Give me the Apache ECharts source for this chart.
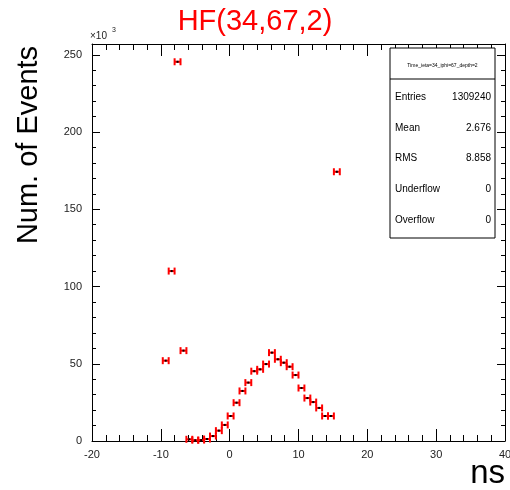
<!DOCTYPE html>
<html>
<head>
<meta charset="utf-8">
<script src="https://cdn.jsdelivr.net/npm/echarts@6/dist/echarts.min.js"></script>
<style>
  html, body { margin: 0; padding: 0; background: #fff; }
  #chart { width: 510px; height: 490px; }
</style>
</head>
<body>
<div id="chart"></div>
<script>
// Timing histogram of HF channel (34,67,2): 70 bins over [-20, 40] ns,
// counts in units of 10^3 events.
const binWidth = 0.857;
const binCenters = [-9.29, -8.43, -7.57, -6.71, -5.86, -5.00, -4.14, -3.29, -2.43, -1.57,
                    -0.71, 0.14, 1.00, 1.86, 2.71, 3.57, 4.43, 5.29, 6.14, 7.00,
                    7.86, 8.71, 9.57, 10.43, 11.29, 12.14, 13.00, 13.86, 14.71, 15.57];
const counts = [52, 110, 245.5, 58.5, 1.1, 0.5, 0.6, 1.3, 3.2, 6.7,
                10.4, 16.2, 24.8, 32.4, 37.8, 45.2, 46.4, 49.8, 57.2, 52.9,
                50.7, 48.1, 42.7, 34.3, 27.8, 25.2, 21.4, 16.2, 16.2, 174.3];

const xTicks = { min: -20, max: 40, step: 10, minorSplit: 5 };
const yTicks = { min: 0, max: 257, step: 50, minorStep: 10 };

const statsTitle = 'Time_ieta=34_iphi=67_depth=2';
const statsLabels = ['Entries', 'Mean', 'RMS', 'Underflow', 'Overflow'];
const statsValues = ['1309240', '2.676', '8.858', '0', '0'];

const titleText = 'HF(34,67,2)';
const xTitle = 'ns';
const yTitle = 'Num. of Events';

const FONT = '"Liberation Sans", Arial, Helvetica, sans-serif';

const chart = echarts.init(document.getElementById('chart'), null, { renderer: 'canvas' });

// Error-bar marker: horizontal bin-width bar with end caps, sqrt(N) vertical bar, dot at centre.
function renderPoint(params, api) {
  const x = api.value(0), y = api.value(1);
  const l = api.coord([x - binWidth / 2, y]);
  const r = api.coord([x + binWidth / 2, y]);
  const c = api.coord([x, y]);
  const err = Math.sqrt(y * 1000) / 1000;
  const t = api.coord([x, y + err]);
  const b = api.coord([x, y - err]);
  const cap = 3.5;
  const red = { stroke: '#ff0000', lineWidth: 2 };
  return {
    type: 'group',
    children: [
      { type: 'line', shape: { x1: l[0], y1: l[1], x2: r[0], y2: r[1] }, style: red },
      { type: 'line', shape: { x1: l[0], y1: l[1] - cap, x2: l[0], y2: l[1] + cap }, style: red },
      { type: 'line', shape: { x1: r[0], y1: r[1] - cap, x2: r[0], y2: r[1] + cap }, style: red },
      { type: 'line', shape: { x1: c[0], y1: t[1], x2: c[0], y2: b[1] }, style: red },
      { type: 'rect', shape: { x: c[0] - 1, y: c[1] - 1, width: 2, height: 2 }, style: { fill: '#000' } }
    ]
  };
}

const labelStyle = { color: '#222', fontSize: 11, fontFamily: FONT };

function xAxisDef(position, showLabel) {
  return {
    type: 'value', position: position,
    min: xTicks.min, max: xTicks.max, interval: xTicks.step,
    axisLine: { show: true, onZero: false, lineStyle: { color: '#000', width: 1 } },
    axisTick: { show: true, inside: true, length: 12, lineStyle: { color: '#000' } },
    minorTick: { show: true, splitNumber: xTicks.minorSplit, length: 6, lineStyle: { color: '#000' } },
    splitLine: { show: false },
    axisLabel: Object.assign({ show: showLabel, margin: 8 }, labelStyle)
  };
}

function yAxisDef(position, step, tickLen, showLabel, showLine) {
  return {
    type: 'value', position: position,
    min: yTicks.min, max: yTicks.max, interval: step,
    axisLine: { show: showLine, onZero: false, lineStyle: { color: '#000', width: 1 } },
    axisTick: { show: true, inside: true, length: tickLen, lineStyle: { color: '#000' } },
    splitLine: { show: false },
    axisLabel: Object.assign({ show: showLabel, margin: 10, showMaxLabel: false,
      formatter: v => (v % yTicks.step === 0 ? String(v) : '') }, labelStyle)
  };
}

const statsGraphics = [
  { type: 'rect', shape: { x: 390, y: 48, width: 105, height: 190 },
    style: { fill: '#fff', stroke: '#000', lineWidth: 1 }, z: 10 },
  { type: 'line', shape: { x1: 390, y1: 79, x2: 495, y2: 79 },
    style: { stroke: '#000', lineWidth: 1 }, z: 11 },
  { type: 'text', x: 442.5, y: 66, z: 11,
    style: { text: statsTitle, font: '5px ' + FONT, fill: '#000', align: 'center', verticalAlign: 'middle' } }
];
statsLabels.forEach((lab, i) => {
  const yy = 97 + i * 30.8;
  statsGraphics.push({ type: 'text', x: 395, y: yy, z: 11,
    style: { text: lab, font: '10px ' + FONT, fill: '#000', align: 'left', verticalAlign: 'middle' } });
  statsGraphics.push({ type: 'text', x: 491, y: yy, z: 11,
    style: { text: statsValues[i], font: '10px ' + FONT, fill: '#000', align: 'right', verticalAlign: 'middle' } });
});

chart.setOption({
  animation: false,
  backgroundColor: '#fff',
  grid: { left: 92, right: 5, top: 44, bottom: 49, containLabel: false, outerBoundsMode: 'none' },
  xAxis: [xAxisDef('bottom', true), xAxisDef('top', false)],
  yAxis: [
    yAxisDef('left', yTicks.step, 8, true, true),
    yAxisDef('left', yTicks.minorStep, 4, false, false),
    yAxisDef('right', yTicks.step, 8, false, true),
    yAxisDef('right', yTicks.minorStep, 4, false, false)
  ],
  series: [{
    type: 'custom',
    xAxisIndex: 0, yAxisIndex: 0,
    renderItem: renderPoint,
    data: binCenters.map((x, i) => [x, counts[i]]),
    z: 5
  }],
  graphic: [
    { type: 'text', x: 255, y: 22,
      style: { text: titleText, font: '29px ' + FONT, fill: '#ff0000', align: 'center', verticalAlign: 'middle' } },
    { type: 'text', x: 90, y: 36,
      style: { text: '\u00d710', font: '10px ' + FONT, fill: '#222', align: 'left', verticalAlign: 'middle' } },
    { type: 'text', x: 112, y: 30,
      style: { text: '3', font: '7px ' + FONT, fill: '#222', align: 'left', verticalAlign: 'middle' } },
    { type: 'text', x: 505, y: 474,
      style: { text: xTitle, font: '33px ' + FONT, fill: '#000', align: 'right', verticalAlign: 'middle' } },
    { type: 'text', x: 29, y: 145, rotation: Math.PI / 2,
      style: { text: yTitle, font: '29px ' + FONT, fill: '#000', align: 'center', verticalAlign: 'middle' } }
  ].concat(statsGraphics)
});
</script>
</body>
</html>
